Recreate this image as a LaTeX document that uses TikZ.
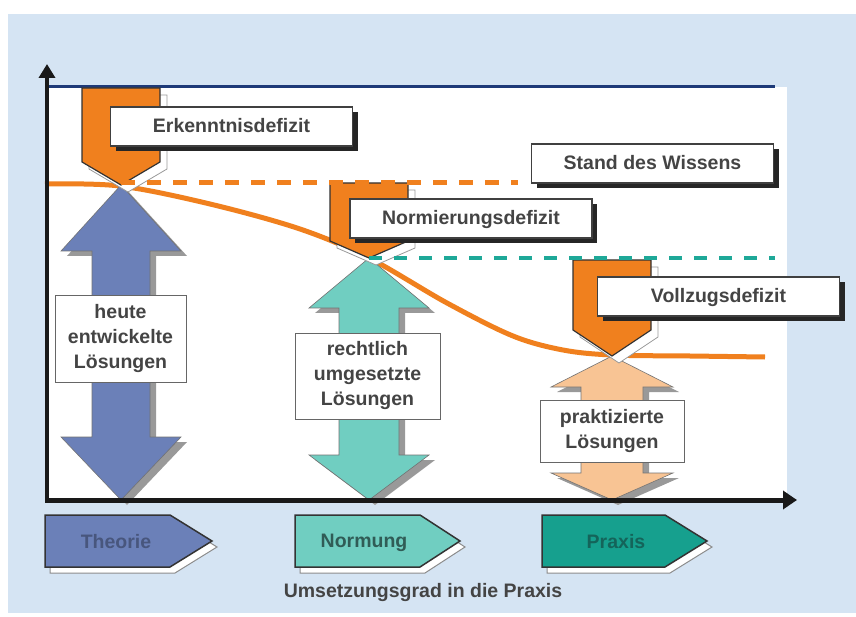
\documentclass[tikz,border=0pt]{standalone}
\usepackage{fontspec}
\setmainfont{Liberation Sans}
\usetikzlibrary{positioning, shadows, arrows.meta}
\definecolor{bgblue}{RGB}{213,228,243}
\definecolor{navy}{RGB}{30,58,120}
\definecolor{defiorange}{RGB}{240,128,30}
\definecolor{theoblue}{RGB}{107,128,184}
\definecolor{normteal}{RGB}{112,206,193}
\definecolor{praxteal}{RGB}{22,160,142}
\definecolor{peach}{RGB}{248,196,148}
\definecolor{dashteal}{RGB}{30,168,152}
\definecolor{txtgray}{RGB}{68,68,68}
\tikzset{
  defbox/.style={
    shape=rectangle,
    draw=black!75,
    line width=1.2pt,
    fill=white,
    font=\bfseries\fontsize{19.5}{24}\selectfont,
    text=txtgray,
    text height=13pt,
    text depth=0pt,
    minimum width=242pt,
    minimum height=39pt,
    inner sep=0pt,
    drop shadow={shadow xshift=5pt, shadow yshift=-5pt, opacity=1, fill=black!85}
  },
  solbox/.style={
    shape=rectangle,
    draw=black!60,
    line width=1pt,
    fill=white,
    align=center,
    font=\bfseries\fontsize{19.5}{25}\selectfont,
    text=txtgray,
    minimum height=86pt,
    inner sep=0pt
  },
  tagtext/.style={font=\bfseries\fontsize{19.5}{24}\selectfont, anchor=base},
  marker/.style={fill=defiorange, draw=black!80, line width=1.2pt},
  markshadow/.style={fill=white, draw=black!40, line width=0.8pt},
  dblarrow/.style={draw=black!55, line width=0.6pt},
  arrshadow/.style={fill=black!40},
  tag/.style={draw=black!80, line width=1.5pt},
  tagshadow/.style={fill=white, draw=black!45, line width=1pt}
}

\begin{document}
\begin{tikzpicture}[x=1pt, y=-1pt]

% Background
\fill[white] (0,0) rectangle (856,617);
\useasboundingbox (0,0) rectangle (856,617);
\fill[bgblue] (8,14) rectangle (856,613);
\fill[white] (47,87) rectangle (787,500);
\draw[navy, line width=3pt] (47,87) -- (775,87);

\coordinate (origin) at (47,500);
\coordinate (ytop) at (47,64);
\coordinate (xend) at (797,500);
\coordinate (erktip) at (121,185);
\coordinate (nortip) at (369,258);
\coordinate (voltip) at (612,356);
\coordinate (oend) at (518,183);
\coordinate (tend) at (775,258);

% Knowledge curve
\draw[defiorange, line width=5pt] plot[smooth, tension=0.55] coordinates
  {(45,184) (120,186) (210,204) (300,229) (369,258) (447,303) (513,336) (563,350) (612,355) (690,356) (765,357)};

% Solutions
\fill[arrshadow, shift={(6,5)}] (121,185) -- (181,251) -- (150,251) -- (150,437) -- (181,437) -- (121,500) -- (61,437) -- (92,437) -- (92,251) -- (61,251) -- cycle;
\filldraw[dblarrow, fill=theoblue] (121,185) -- (181,251) -- (150,251) -- (150,437) -- (181,437) -- (121,500) -- (61,437) -- (92,437) -- (92,251) -- (61,251) -- cycle;
\fill[arrshadow, shift={(6,5)}] (369,258) -- (429,308) -- (399,308) -- (399,455) -- (429,455) -- (369,500) -- (309,455) -- (339,455) -- (339,308) -- (309,308) -- cycle;
\filldraw[dblarrow, fill=normteal] (369,258) -- (429,308) -- (399,308) -- (399,455) -- (429,455) -- (369,500) -- (309,455) -- (339,455) -- (339,308) -- (309,308) -- cycle;
\fill[arrshadow, shift={(6,5)}] (612,356) -- (673,387) -- (643,387) -- (643,473) -- (673,473) -- (612,500) -- (551,473) -- (581,473) -- (581,387) -- (551,387) -- cycle;
\filldraw[dblarrow, fill=peach] (612,356) -- (673,387) -- (643,387) -- (643,473) -- (673,473) -- (612,500) -- (551,473) -- (581,473) -- (581,387) -- (551,387) -- cycle;

\node[solbox, minimum width=131pt] (heute) at (120.5,339) {heute\\entwickelte\\Lösungen};
\node[solbox, minimum width=145pt] (rechtlich) at (367.5,376) {rechtlich\\umgesetzte\\Lösungen};
\node[solbox, minimum width=144pt, minimum height=62pt] (praktiziert) at (612,431) {praktizierte\\Lösungen};

% Deficits
\draw[markshadow, shift={(7,7)}] (82,88) -- (160,88) -- (160,162) -- (121,185) -- (82,162) -- cycle;
\filldraw[marker] (82,88) -- (160,88) -- (160,162) -- (121,185) -- (82,162) -- cycle;
\draw[markshadow, shift={(7,7)}] (330,183) -- (408,183) -- (408,241) -- (369,258) -- (330,241) -- cycle;
\filldraw[marker] (330,183) -- (408,183) -- (408,241) -- (369,258) -- (330,241) -- cycle;
\draw[markshadow, shift={(7,7)}] (573,260) -- (651,260) -- (651,330) -- (612,356) -- (573,330) -- cycle;
\filldraw[marker] (573,260) -- (651,260) -- (651,330) -- (612,356) -- (573,330) -- cycle;

\draw[defiorange, line width=5pt, dash pattern=on 14pt off 12pt] (erktip) ++(0,-2) -- (oend);
\draw[dashteal, line width=4pt, dash pattern=on 13pt off 12pt] (nortip) -- (tend);

\node[defbox] (erkenntnis) at (231.5,126.5) {Erkenntnisdefizit};
\node[defbox] (stand) at (652.5,163.5) {Stand des Wissens};
\node[defbox] (normierung) at (471,218.5) {Normierungsdefizit};
\node[defbox] (vollzug) at (718.5,296.5) {Vollzugsdefizit};

% Stages
\draw[tagshadow, shift={(5,6)}] (45,515) -- (170,515) -- (212,541) -- (170,567) -- (45,567) -- cycle;
\filldraw[tag, fill=theoblue] (45,515) -- (170,515) -- (212,541) -- (170,567) -- (45,567) -- cycle;
\draw[tagshadow, shift={(5,6)}] (295,515) -- (420,515) -- (460,541) -- (420,567) -- (295,567) -- cycle;
\filldraw[tag, fill=normteal] (295,515) -- (420,515) -- (460,541) -- (420,567) -- (295,567) -- cycle;
\draw[tagshadow, shift={(5,6)}] (542,515) -- (665,515) -- (707,541) -- (665,567) -- (542,567) -- cycle;
\filldraw[tag, fill=praxteal] (542,515) -- (665,515) -- (707,541) -- (665,567) -- (542,567) -- cycle;

\node[tagtext, text={rgb,255:red,72;green,86;blue,125}] (theorie) at (116,548) {Theorie};
\node[tagtext, text={rgb,255:red,48;green,92;blue,86}] (normung) at (364,547) {Normung};
\node[tagtext, text={rgb,255:red,20;green,100;blue,90}] (praxis) at (616,548) {Praxis};

% Axes
\draw[black!90, line width=4pt, -{Triangle[length=14pt, width=16pt]}] (origin) ++(0,2) -- (ytop);
\draw[black!90, line width=5pt, -{Triangle[length=14pt, width=18pt]}] (origin) ++(-2,0) -- (xend);

\node[tagtext, text=txtgray] (grad) at (423,597) {Umsetzungsgrad in die Praxis};

\end{tikzpicture}
\end{document}
